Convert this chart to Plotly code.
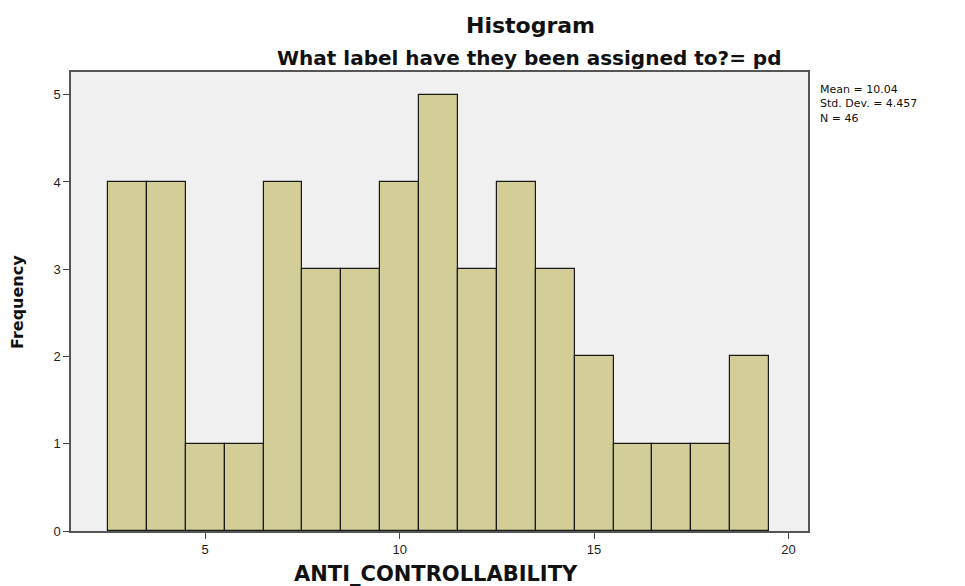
import plotly.graph_objects as go

bin_centers = [3, 4, 5, 6, 7, 8, 9, 10, 11, 12, 13, 14, 15, 16, 17, 18, 19]
frequencies = [4, 4, 1, 1, 4, 3, 3, 4, 5, 3, 4, 3, 2, 1, 1, 1, 2]
x_ticks = [5, 10, 15, 20]
y_ticks = [0, 1, 2, 3, 4, 5]
stats_lines = ["Mean = 10.04", "Std. Dev. = 4.457", "N = 46"]

W, H = 965, 586
L, R, T, B = 71, 808, 72, 531
bold = "DejaVu Sans, Liberation Sans, sans-serif"
reg = "Liberation Sans, Arial, sans-serif"


def px(x):
    return (x - L) / (R - L)


def py(y):
    return (B - y) / (B - T)


fig = go.Figure()
fig.add_trace(go.Bar(
    x=bin_centers, y=frequencies, width=1,
    marker=dict(color="#D3CE97", line=dict(color="#1a1a1a", width=1.2)),
    showlegend=False,
))

fig.update_layout(
    width=W, height=H,
    margin=dict(l=L, r=W - R, t=T, b=H - B, autoexpand=False),
    paper_bgcolor="white", plot_bgcolor="#F0F0F0",
    bargap=0,
    xaxis=dict(range=[1.55, 20.5], tickvals=x_ticks, ticks="outside", ticklen=6,
               tickcolor="#444", showgrid=False, zeroline=False, automargin=False,
               showline=True, linecolor="#555", linewidth=1.5, mirror=True,
               tickfont=dict(family=reg, size=13, color="#222")),
    yaxis=dict(range=[0, 5.26], tickvals=y_ticks, ticks="outside", ticklen=6,
               tickcolor="#444", showgrid=False, zeroline=False, automargin=False,
               showline=True, linecolor="#555", linewidth=1.5, mirror=True,
               tickfont=dict(family=reg, size=13, color="#222")),
)


def note(text, x, y, size, family=bold, xanchor="center", yanchor="middle", angle=0):
    fig.add_annotation(text=text, x=px(x), y=py(y), xref="paper", yref="paper",
                       xanchor=xanchor, yanchor=yanchor, showarrow=False, align="left",
                       textangle=angle, font=dict(family=family, size=size, color="#111"))


note("<b>Histogram</b>", 530, 25, 22)
note("<b>What label have they been assigned to?= pd</b>", 529, 58, 20)
note("<b>ANTI_CONTROLLABILITY</b>", 436, 574, 21)
note("<b>Frequency</b>", 17, 302, 16, angle=-90)
note("<br>".join(stats_lines), 818, 104, 11, family="DejaVu Sans, sans-serif",
     xanchor="left")

fig.write_html("out.html", config={"displayModeBar": False},
               post_script="document.body.style.margin='0px';")
